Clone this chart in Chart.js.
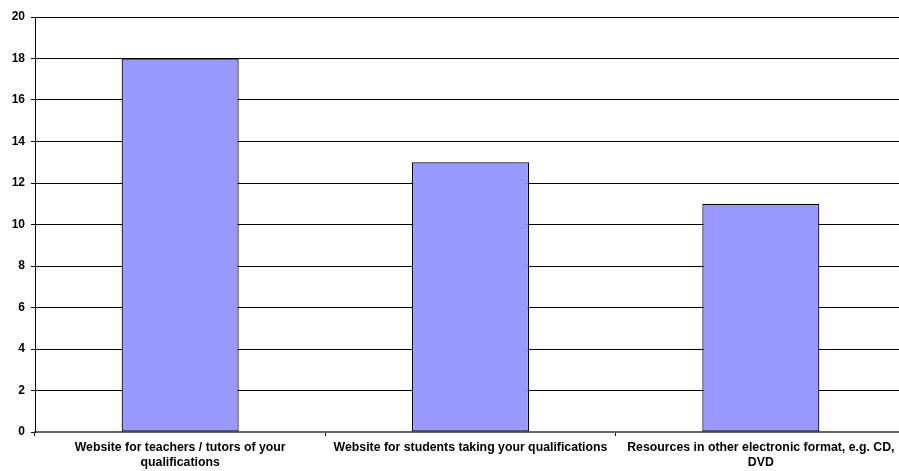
<!DOCTYPE html>
<html>
<head>
<meta charset="utf-8">
<script src="https://cdn.jsdelivr.net/npm/chart.js@4"></script>
<style>
  body { margin: 0; background: #fff; overflow: hidden; }
  /* plot runs a few px past the right edge in the original */
  #wrap { width: 906px; height: 471px; }
</style>
</head>
<body>
<div id="wrap"><canvas id="chart"></canvas></div>
<script>
const categories = [
    ['Website for teachers / tutors of your', 'qualifications'],
    'Website for students taking your qualifications',
    ['Resources in other electronic format, e.g. CD,', 'DVD']
];
const counts = [18, 13, 11];
const yTicks = [0, 2, 4, 6, 8, 10, 12, 14, 16, 18, 20];

const family = 'Arial, "Liberation Sans", sans-serif';

const ctx = document.getElementById('chart');
new Chart(ctx, {
    type: 'bar',
    data: {
        labels: categories,
        datasets: [{
            label: 'Count',
            data: counts,
            backgroundColor: '#9999FF',
            borderColor: '#000',
            borderWidth: 1.2,
            borderSkipped: false,
            categoryPercentage: 1,
            barPercentage: 0.403
        }]
    },
    options: {
        responsive: true,
        maintainAspectRatio: false,
        animation: false,
        layout: { padding: { top: 17, right: 0, left: 0, bottom: 0 } },
        scales: {
            x: {
                afterFit: (scale) => { scale.height = 39; },
                grid: {
                    offset: true,
                    drawOnChartArea: false,
                    tickLength: 4,
                    color: '#000'
                },
                border: { color: '#666', width: 2 },
                ticks: {
                    color: '#000',
                    font: { family: family, size: 12.3, weight: 'bold', lineHeight: 1.2 },
                    maxRotation: 0,
                    autoSkip: false,
                    padding: 4
                }
            },
            y: {
                min: 0,
                max: 20,
                afterFit: (scale) => { scale.width = 35; },
                afterBuildTicks: (scale) => { scale.ticks = yTicks.map(v => ({ value: v })); },
                grid: {
                    color: '#000',
                    tickLength: 4
                },
                border: { color: '#000', width: 1 },
                ticks: {
                    color: '#000',
                    font: { family: family, size: 12, weight: 'bold' },
                    padding: 6
                }
            }
        },
        plugins: {
            legend: { display: false },
            tooltip: { enabled: false }
        }
    }
});
</script>
</body>
</html>
